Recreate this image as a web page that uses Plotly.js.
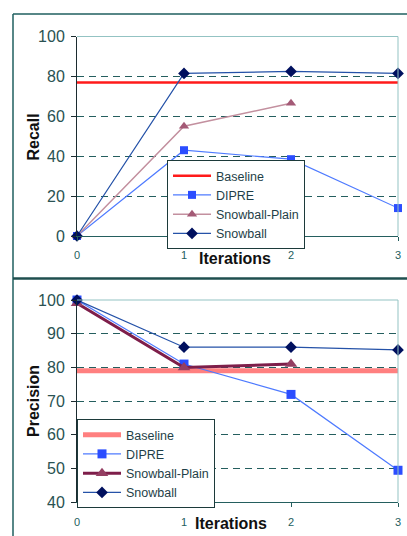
<!DOCTYPE html>
<html>
<head>
<meta charset="utf-8">
<script src="https://cdn.plot.ly/plotly-3.0.1.min.js"></script>
<style>
html,body{margin:0;padding:0;background:#fff;}
#chart{width:407px;height:536px;}
</style>
</head>
<body>
<div id="chart"></div>
<script>
// ---- data ----
const iterations = [0, 1, 2, 3];
const iterationsPlain = [0, 1, 2];
const xTickLabels = ['0', '1', '2', '3'];

const recallBaseline = [77, 77, 77, 77];
const recallDIPRE = [0, 43, 38.5, 14];
const recallSnowballPlain = [0, 55, 66.5];
const recallSnowball = [0, 81.5, 82.5, 81.5];

const precisionBaseline = [79, 79, 79, 79];
const precisionDIPRE = [100, 81, 72, 49.5];
const precisionSnowballPlain = [99, 80, 81];
const precisionSnowball = [100, 86, 86, 85.2];

const recallTicks = [0, 20, 40, 60, 80, 100];
const recallGrid = [20, 40, 60, 80];
const precisionTicks = [40, 50, 60, 70, 80, 90, 100];
const precisionGrid = [50, 60, 70, 80, 90];

// ---- geometry helpers (pixels -> paper) ----
const W = 407, H = 536, ML = 77, MR = 9;
const PW = W - ML - MR;
const px = v => (v - ML) / PW;
const py = v => 1 - v / H;

const FONT = 'Arial, "Liberation Sans", sans-serif';
const TEAL = '#245e5e';

const cDIPRE = '#2b4dff', cDIPRELine = '#4f7bff';
const cSnow = '#00105e', cSnowLine = '#2552a8';

const traces = [
  // top
  {x: iterations, y: recallBaseline, name: 'Baseline', mode: 'lines',
   line: {color: '#ff1a1a', width: 2.5}, xaxis: 'x', yaxis: 'y', legend: 'legend', cliponaxis: false},
  {x: iterations, y: recallDIPRE, name: 'DIPRE', mode: 'lines+markers',
   line: {color: cDIPRELine, width: 1.2}, marker: {symbol: 'square', size: 8, color: cDIPRE},
   xaxis: 'x', yaxis: 'y', legend: 'legend', cliponaxis: false},
  {x: iterationsPlain, y: recallSnowballPlain, name: 'Snowball-Plain', mode: 'lines+markers',
   line: {color: '#c3909f', width: 1.5}, marker: {symbol: 'triangle-up', size: 9, color: '#a45a76'},
   xaxis: 'x', yaxis: 'y', legend: 'legend', cliponaxis: false},
  {x: iterations, y: recallSnowball, name: 'Snowball', mode: 'lines+markers',
   line: {color: cSnowLine, width: 1.2}, marker: {symbol: 'diamond', size: 9, color: cSnow},
   xaxis: 'x', yaxis: 'y', legend: 'legend', cliponaxis: false},
  {x: [], y: [], xaxis: 'x', yaxis: 'y3', showlegend: false, hoverinfo: 'skip'},
  // bottom
  {x: iterations, y: precisionBaseline, name: 'Baseline', mode: 'lines',
   line: {color: '#ff8080', width: 5}, xaxis: 'x2', yaxis: 'y2', legend: 'legend2', cliponaxis: false},
  {x: iterations, y: precisionDIPRE, name: 'DIPRE', mode: 'lines+markers',
   line: {color: cDIPRELine, width: 1.2}, marker: {symbol: 'square', size: 9, color: cDIPRE},
   xaxis: 'x2', yaxis: 'y2', legend: 'legend2', cliponaxis: false},
  {x: iterationsPlain, y: precisionSnowballPlain, name: 'Snowball-Plain', mode: 'lines+markers',
   line: {color: '#7e1e4a', width: 3}, marker: {symbol: 'triangle-up', size: 11, color: '#943e62'},
   xaxis: 'x2', yaxis: 'y2', legend: 'legend2', cliponaxis: false},
  {x: iterations, y: precisionSnowball, name: 'Snowball', mode: 'lines+markers',
   line: {color: cSnowLine, width: 1.2}, marker: {symbol: 'diamond', size: 9, color: cSnow},
   xaxis: 'x2', yaxis: 'y2', legend: 'legend2', cliponaxis: false},
  {x: [], y: [], xaxis: 'x2', yaxis: 'y4', showlegend: false, hoverinfo: 'skip'}
];

const xCommon = {
  range: [0, 3], tickvals: iterations, ticktext: xTickLabels,
  showgrid: false, zeroline: false, showline: true, linecolor: TEAL, linewidth: 1,
  ticks: 'outside', ticklen: 4, tickcolor: TEAL, ticklabelstandoff: 5,
  tickfont: {family: FONT, size: 11, color: TEAL}, fixedrange: true
};
const yCommon = {
  showgrid: false, zeroline: false, showline: true, linecolor: '#1c2c30', linewidth: 1,
  ticks: 'outside', ticklen: 5, tickcolor: '#1c2c30', ticklabelstandoff: 3,
  tickfont: {family: FONT, size: 16, color: '#2a5252'}, fixedrange: true
};
const gridCommon = {
  showgrid: true, gridcolor: TEAL, gridwidth: 1, griddash: '7px,5px',
  showticklabels: false, ticks: '', showline: false, zeroline: false, fixedrange: true
};

const topDom = [py(236), py(36.5)];
const botDom = [py(502.3), py(300)];

const legendCommon = {
  bgcolor: '#ffffff', bordercolor: '#1c3a3a', borderwidth: 1,
  font: {family: FONT, size: 12.5, color: '#1f3f48'},
  itemwidth: 38, tracegroupgap: 0, xanchor: 'left', yanchor: 'top'
};

const frame = {type: 'line', xref: 'paper', yref: 'paper', line: {color: '#1f5f5f', width: 1.5}};
const plotBorder = (xa, ya) => [
  {type: 'line', xref: xa + ' domain', yref: ya + ' domain', x0: 0, x1: 1, y0: 1, y1: 1, line: {color: '#93c3c3', width: 1}},
  {type: 'line', xref: xa + ' domain', yref: ya + ' domain', x0: 1, x1: 1, y0: 0, y1: 1, line: {color: '#93c3c3', width: 1}}
];

const layout = {
  width: W, height: H,
  margin: {l: ML, r: MR, t: 0, b: 0, pad: 0},
  paper_bgcolor: '#ffffff', plot_bgcolor: '#ffffff',
  showlegend: true,
  xaxis: Object.assign({}, xCommon, {domain: [0, 1], anchor: 'y'}),
  yaxis: Object.assign({}, yCommon, {domain: topDom, range: [0, 100], tickvals: recallTicks, anchor: 'x'}),
  yaxis3: Object.assign({}, gridCommon, {overlaying: 'y', range: [0, 100], tickvals: recallGrid, anchor: 'x'}),
  xaxis2: Object.assign({}, xCommon, {domain: [0, 1], anchor: 'y2'}),
  yaxis2: Object.assign({}, yCommon, {domain: botDom, range: [40, 100], tickvals: precisionTicks, anchor: 'x2'}),
  yaxis4: Object.assign({}, gridCommon, {overlaying: 'y2', range: [40, 100], tickvals: precisionGrid, anchor: 'x2'}),
  legend: Object.assign({}, legendCommon, {x: px(167), y: py(160)}),
  legend2: Object.assign({}, legendCommon, {x: px(77), y: py(419)}),
  shapes: [
    Object.assign({}, frame, {x0: px(13), x1: px(410), y0: py(14), y1: py(14)}),
    Object.assign({}, frame, {x0: px(13), x1: px(13), y0: py(14), y1: py(540)}),
    Object.assign({}, frame, {x0: px(13), x1: px(410), y0: py(278.5), y1: py(278.5), line: {color: '#1f4f4f', width: 2.5}})
  ].concat(plotBorder('x', 'y'), plotBorder('x2', 'y2')),
  annotations: [
    {text: '<b>Recall</b>', xref: 'paper', yref: 'paper', x: px(33), y: py(137.5), textangle: -90,
     showarrow: false, xanchor: 'center', yanchor: 'middle', font: {family: FONT, size: 16, color: '#111'}},
    {text: '<b>Iterations</b>', xref: 'paper', yref: 'paper', x: px(235), y: py(258),
     showarrow: false, xanchor: 'center', yanchor: 'middle', font: {family: FONT, size: 16, color: '#111'}},
    {text: '<b>Precision</b>', xref: 'paper', yref: 'paper', x: px(33), y: py(401), textangle: -90,
     showarrow: false, xanchor: 'center', yanchor: 'middle', font: {family: FONT, size: 16, color: '#111'}},
    {text: '<b>Iterations</b>', xref: 'paper', yref: 'paper', x: px(231), y: py(523),
     showarrow: false, xanchor: 'center', yanchor: 'middle', font: {family: FONT, size: 16, color: '#111'}}
  ]
};

Plotly.newPlot('chart', traces, layout, {displayModeBar: false, staticPlot: true});
</script>
</body>
</html>
